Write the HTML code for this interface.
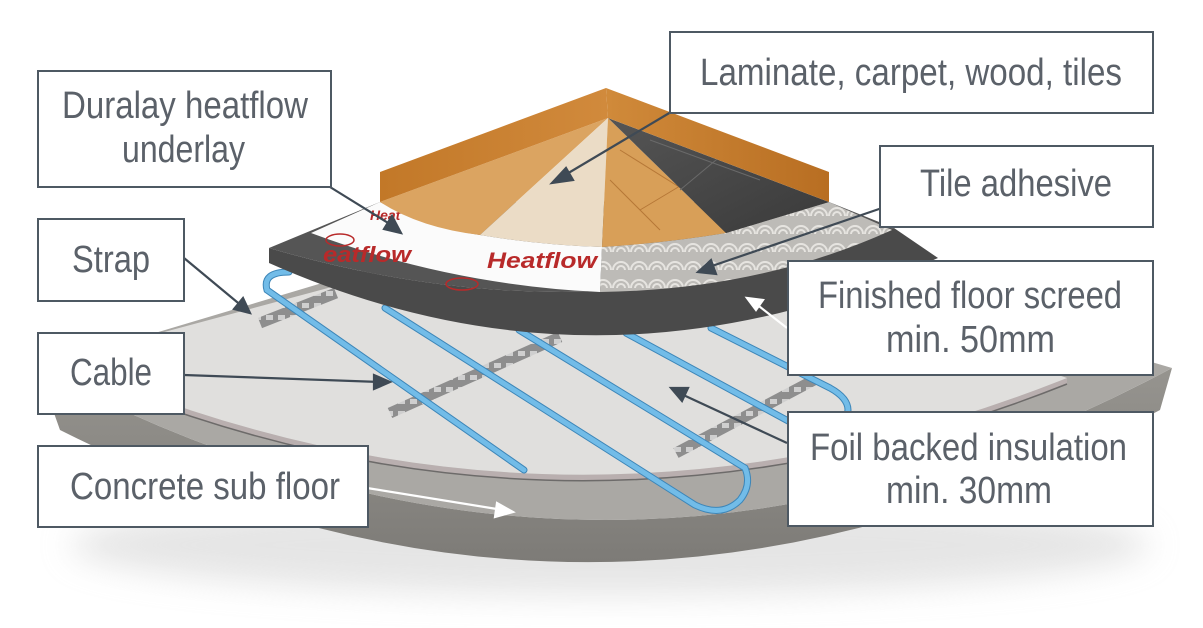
<!DOCTYPE html>
<html><head><meta charset="utf-8"><style>
html,body{margin:0;padding:0;background:#fff;}
svg{display:block;}
text{font-family:"Liberation Sans Narrow","Liberation Sans",sans-serif;fill:#5b6169;font-size:38px;}
</style></head><body>
<svg width="1203" height="628" viewBox="0 0 1203 628" xmlns="http://www.w3.org/2000/svg">
<defs>
<filter id="blur" x="-20%" y="-50%" width="140%" height="200%"><feGaussianBlur stdDeviation="16"/></filter>
<linearGradient id="skL" x1="0" y1="0" x2="1" y2="0"><stop offset="0" stop-color="#c27828"/><stop offset="1" stop-color="#d18a3c"/></linearGradient>
<linearGradient id="skR" x1="0" y1="0" x2="1" y2="0"><stop offset="0" stop-color="#d08a3a"/><stop offset="1" stop-color="#b86e22"/></linearGradient>
<linearGradient id="face" x1="0" y1="0" x2="0" y2="1"><stop offset="0" stop-color="#96948f"/><stop offset="1" stop-color="#7d7b77"/></linearGradient>
<linearGradient id="tile" x1="0" y1="0" x2="1" y2="1"><stop offset="0" stop-color="#555"/><stop offset="1" stop-color="#3a3a3a"/></linearGradient>
<pattern id="adh" width="18" height="18" patternUnits="userSpaceOnUse"><rect width="18" height="18" fill="#bdbbb7"/><circle cx="9" cy="18" r="8" fill="none" stroke="#e6e4e0" stroke-width="2"/><circle cx="9" cy="18" r="4" fill="none" stroke="#e6e4e0" stroke-width="2"/></pattern>
<pattern id="strapP" width="12" height="12" patternUnits="userSpaceOnUse"><rect width="12" height="12" fill="#8e8e8e"/><rect x="2" y="3" width="7" height="5" fill="#cfcfcf"/></pattern>
</defs>

<!-- shadow -->
<ellipse cx="610" cy="545" rx="540" ry="50" fill="#ccc" filter="url(#blur)" opacity="0.5"/>

<!-- concrete face -->
<path d="M38,368 Q605,672 1172,368 L1160,410 Q605,704 60,430 Z" fill="url(#face)"/>
<!-- concrete top -->
<path d="M38,368 L600,200 L1172,368 Q605,672 38,368 Z" fill="#aaa8a4"/>
<!-- insulation -->
<path d="M60,366 Q560,586 1067,384 L1067,378 Q560,580 60,360 Z" fill="#b9afaf"/>
<path d="M60,360 L600,215 L1067,378 Q560,580 60,360 Z" fill="#e0dfdd"/>
<path d="M60,366 Q560,586 1067,384" fill="none" stroke="#6d6b6a" stroke-width="1.5"/>

<!-- straps -->
<g stroke-linecap="butt">
<line x1="260" y1="323" x2="336" y2="293" stroke="url(#strapP)" stroke-width="11"/>
<line x1="390" y1="413" x2="560" y2="337" stroke="url(#strapP)" stroke-width="11"/>
<line x1="676" y1="453" x2="814" y2="380" stroke="url(#strapP)" stroke-width="11"/>
</g>

<!-- cables -->
<g fill="none" stroke-linecap="round">
<g stroke="#3d86b8" stroke-width="7">
<path d="M289,272 Q262,272 267,290 L524,470"/>
<path d="M385,308 L695,505 Q722,518 740,500 Q752,485 745,468 L519,330"/>
<path d="M626,333 L790,422 Q845,440 848,410 Q848,398 830,388 L711,328"/>
</g>
<g stroke="#72bce8" stroke-width="5">
<path d="M289,272 Q262,272 267,290 L524,470"/>
<path d="M385,308 L695,505 Q722,518 740,500 Q752,485 745,468 L519,330"/>
<path d="M626,333 L790,422 Q845,440 848,410 Q848,398 830,388 L711,328"/>
</g>
</g>

<!-- screed -->
<path d="M269,248 Q600,345 894,228 L938,258 Q600,410 269,263 Z" fill="#4a4a4a"/>
<path d="M269,248 L380,202 L829,202 L894,228 Q600,345 269,248 Z" fill="#555"/>

<!-- heatflow -->
<path d="M311,233 L380,202 Q430,228 480,235 Q540,245 602,247 L600,292 Q450,285 311,233 Z" fill="#fbfbfb"/>
<text x="487" y="268" style="font-family:'Liberation Sans',sans-serif;font-size:22px;font-weight:bold;font-style:italic;fill:#b82a2a" textLength="110" lengthAdjust="spacingAndGlyphs">Heatflow</text>
<text x="323" y="262" style="font-family:'Liberation Sans',sans-serif;font-size:22px;font-weight:bold;font-style:italic;fill:#b82a2a" textLength="88" lengthAdjust="spacingAndGlyphs">eatflow</text>
<text x="370" y="220" style="font-family:'Liberation Sans',sans-serif;font-size:14px;font-weight:bold;font-style:italic;fill:#b82a2a">Heat</text>
<ellipse cx="340" cy="240" rx="14" ry="6" fill="none" stroke="#b82a2a" stroke-width="1.5"/>
<ellipse cx="462" cy="284" rx="16" ry="6" fill="none" stroke="#b82a2a" stroke-width="1.5"/>
<!-- adhesive -->
<path d="M602,247 Q665,243 726,233 L829,202 L892,230 Q760,290 600,292 Z" fill="url(#adh)"/>

<!-- finishes -->
<path d="M608,118 L380,202 Q420,228 480,235 Z" fill="#dba461"/>
<path d="M608,118 L480,235 Q540,245 602,247 Z" fill="#ebdcc6"/>
<path d="M608,118 L602,247 Q665,243 726,233 Z" fill="#d89f58"/>
<g stroke="#a8682a" stroke-width="1" opacity="0.7">
<line x1="620" y1="150" x2="700" y2="200"/><line x1="610" y1="180" x2="660" y2="230"/><line x1="640" y1="210" x2="690" y2="180"/>
</g>
<path d="M608,118 L726,233 L829,202 Z" fill="url(#tile)"/>
<g stroke="#6a6a6a" stroke-width="1"><line x1="650" y1="140" x2="760" y2="180"/><line x1="680" y1="190" x2="740" y2="140"/></g>
<!-- skirting -->
<path d="M380,172 L606,88 L608,118 L380,202 Z" fill="url(#skL)"/>
<path d="M606,88 L829,172 L829,202 L608,118 Z" fill="url(#skR)"/>

<!-- arrows -->
<g stroke="#3f4a55" stroke-width="2.2" fill="#3f4a55">
<line x1="671" y1="112" x2="560" y2="178"/><polygon points="552,183 566,168 573,180"/>
<line x1="330" y1="187" x2="393" y2="226"/><polygon points="401,233 384,229 392,216"/>
<line x1="882" y1="208" x2="706" y2="268"/><polygon points="698,272 711,260 716,274"/>
<line x1="184" y1="258" x2="243" y2="307"/><polygon points="250,313 234,309 243,298"/>
<line x1="184" y1="375" x2="380" y2="382"/><polygon points="390,382 374,375 374,389"/>
<line x1="787" y1="443" x2="679" y2="393"/><polygon points="671,388 688,388 682,401"/>
</g>
<g stroke="#fff" stroke-width="2.2" fill="#fff">
<line x1="787" y1="328" x2="755" y2="303"/><polygon points="747,298 763,300 756,310"/>
<line x1="367" y1="488" x2="503" y2="510"/><polygon points="513,512 497,503 495,517"/>
</g>

<!-- boxes -->
<g fill="#fff" stroke="#4e5963" stroke-width="2">
<rect x="670" y="32" width="483" height="81"/>
<rect x="38" y="71" width="293" height="116"/>
<rect x="880" y="146" width="273" height="81"/>
<rect x="38" y="219" width="146" height="82"/>
<rect x="788" y="261" width="365" height="114"/>
<rect x="38" y="333" width="146" height="81"/>
<rect x="788" y="412" width="365" height="114"/>
<rect x="38" y="446" width="330" height="81"/>
</g>
<text x="700" y="85" textLength="422" lengthAdjust="spacingAndGlyphs">Laminate, carpet, wood, tiles</text>
<text x="62" y="118" textLength="246" lengthAdjust="spacingAndGlyphs">Duralay heatflow</text>
<text x="122" y="162" textLength="123" lengthAdjust="spacingAndGlyphs">underlay</text>
<text x="920" y="196" textLength="192" lengthAdjust="spacingAndGlyphs">Tile adhesive</text>
<text x="72" y="272" textLength="78" lengthAdjust="spacingAndGlyphs">Strap</text>
<text x="818" y="308" textLength="304" lengthAdjust="spacingAndGlyphs">Finished floor screed</text>
<text x="886" y="352" textLength="169" lengthAdjust="spacingAndGlyphs">min. 50mm</text>
<text x="70" y="385" textLength="82" lengthAdjust="spacingAndGlyphs">Cable</text>
<text x="810" y="460" textLength="317" lengthAdjust="spacingAndGlyphs">Foil backed insulation</text>
<text x="886" y="503" textLength="166" lengthAdjust="spacingAndGlyphs">min. 30mm</text>
<text x="70" y="499" textLength="270" lengthAdjust="spacingAndGlyphs">Concrete sub floor</text>
</svg>
</body></html>
